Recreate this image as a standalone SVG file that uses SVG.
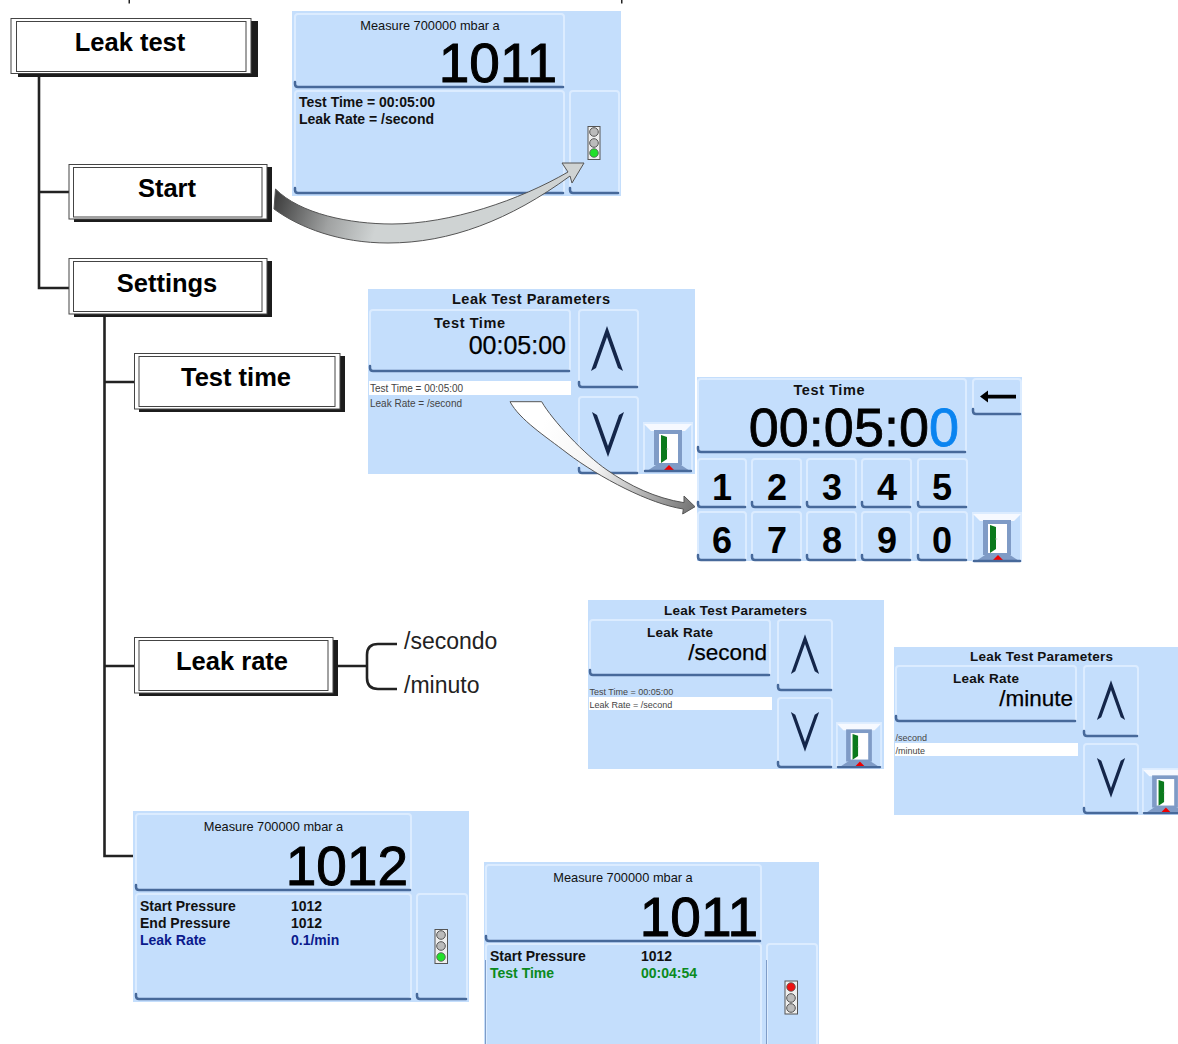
<svg xmlns="http://www.w3.org/2000/svg" width="1178" height="1044" viewBox="0 0 1178 1044">
<style>
text{font-family:"Liberation Sans",Arial,sans-serif;fill:#000}
.bg{fill:#c4defc}
.btn{fill:#c4defc;stroke:#dcecff;stroke-width:2}
.edge{fill:none;stroke:#47699a;stroke-width:2.5;stroke-linecap:round;stroke-linejoin:round}
.side{fill:none;stroke:#7f9cc6;stroke-width:1}
.tree{fill:none;stroke:#222;stroke-width:2.6}
.shadow{fill:#1c1c1c}
.outer{fill:#fff;stroke:#444;stroke-width:1}
.inner{fill:#fff;stroke:#444;stroke-width:1}
.lbl{font-size:25.5px;font-weight:700;text-anchor:middle}
.opt{font-size:23px;fill:#222}
.meas{font-size:12.8px;text-anchor:middle;fill:#111}
.big{font-size:55px;text-anchor:end;stroke:#000;stroke-width:1}
.info{font-size:14px;font-weight:700;fill:#111}
.title{font-size:14.5px;font-weight:700;text-anchor:middle;fill:#111}
.val{font-size:25px;text-anchor:end;stroke:#000;stroke-width:.25}
.list{font-size:10px;fill:#444}
.sel{fill:#fff}
.key{font-size:36px;font-weight:700;text-anchor:middle}
.chev{fill:#14264a}
.tl{fill:#eee;stroke:#555;stroke-width:1}
.off{fill:#bbb;stroke:#555;stroke-width:1}
.green{fill:#22e02a;stroke:#555;stroke-width:.8}
.red{fill:#ee1111;stroke:#555;stroke-width:.8}
.arrow{stroke:#555;stroke-width:1}
</style>
<defs>
<linearGradient id="g1" gradientUnits="userSpaceOnUse" x1="275" y1="200" x2="375" y2="232"><stop offset="0" stop-color="#3f3f3f"/><stop offset=".55" stop-color="#a0a2a2"/><stop offset="1" stop-color="#cfd3d3"/></linearGradient>
<linearGradient id="g2" gradientUnits="userSpaceOnUse" x1="540" y1="430" x2="690" y2="510"><stop offset="0" stop-color="#fff"/><stop offset=".4" stop-color="#f4f4f4"/><stop offset="1" stop-color="#777"/></linearGradient>
<symbol id="door" viewBox="0 0 50 50" width="50" height="50" overflow="visible">
<rect x="1" y="1" width="48" height="48" class="btn"/>
<path d="M1,2H49L42,9H8Z" fill="#f6f9ff"/>
<rect x="11" y="8" width="28" height="35" fill="#7f9bc6"/>
<rect x="16" y="12" width="19" height="29" fill="#fff"/>
<path d="M18,13L24,15V37L18,41Z" fill="#0b7a1d"/>
<circle cx="24.500" cy="27" r=".9" fill="#ddd"/>
<path d="M4,49L16,41H35L47,49Z" fill="#7f9bc6"/>
<path d="M21,48L31,48L26,43Z" fill="#ee0000"/>
<path d="M2,49H48" class="edge"/>
</symbol>
<symbol id="up" viewBox="0 0 34 46" width="34" height="46"><path d="M17,0L33,45L28,42L17,11L6,42L1,45Z" class="chev"/></symbol>
<symbol id="down" viewBox="0 0 34 46" width="34" height="46"><path d="M17,46L33,1L28,4L17,35L6,4L1,1Z" class="chev"/></symbol>
</defs>

<rect x="128.500" y="0" width="1.500" height="3.500" fill="#222"/>
<rect x="621" y="0" width="1.500" height="3.500" fill="#222"/>

<g id="tree-lines">
<path class="tree" d="M39,74V288H69M39,192H69"/>
<path class="tree" d="M104.500,317V856H134M104.500,382H134M104.500,666H134"/>
<path class="tree" d="M338,666H367M397,644H378Q367,644 367,655V678Q367,689 378,689H397"/>
</g>

<g id="node-leak-test">
<rect class="shadow" x="18" y="21" width="240" height="56"/>
<rect class="outer" x="11" y="18.500" width="240" height="55"/>
<rect class="inner" x="16.500" y="21.500" width="229.500" height="50"/>
<text class="lbl" x="130" y="51">Leak test</text>
</g>
<g id="node-start">
<rect class="shadow" x="74" y="167" width="198" height="55"/>
<rect class="outer" x="69" y="164.500" width="198" height="54.500"/>
<rect class="inner" x="73.500" y="167.500" width="188.500" height="49.500"/>
<text class="lbl" x="167" y="197">Start</text>
</g>
<g id="node-settings">
<rect class="shadow" x="74" y="261" width="198" height="56"/>
<rect class="outer" x="69" y="258.500" width="198" height="55.500"/>
<rect class="inner" x="73.500" y="261.500" width="188.500" height="50"/>
<text class="lbl" x="167" y="292">Settings</text>
</g>
<g id="node-test-time">
<rect class="shadow" x="139" y="356" width="206" height="56"/>
<rect class="outer" x="134.500" y="353.500" width="205.500" height="55.500"/>
<rect class="inner" x="139" y="356.500" width="196" height="50"/>
<text class="lbl" x="236" y="386">Test time</text>
</g>
<g id="node-leak-rate">
<rect class="shadow" x="139" y="640" width="199" height="56"/>
<rect class="outer" x="134.500" y="637.500" width="198.500" height="55.500"/>
<rect class="inner" x="139" y="640.500" width="189" height="50"/>
<text class="lbl" x="232" y="670">Leak rate</text>
</g>
<g id="options">
<text class="opt" x="404" y="649">/secondo</text>
<text class="opt" x="404" y="693">/minuto</text>
</g>

<g id="panel-measure-start">
<rect class="bg" x="292" y="11" width="329" height="185"/>
<rect class="btn" x="295" y="14" width="269" height="73" rx="3"/><path class="edge" d="M295,82V84Q295,87 298,87H563"/>
<rect class="btn" x="295" y="91" width="269" height="102" rx="3"/><path class="edge" d="M295,188V190Q295,193 298,193H563"/>
<rect class="btn" x="570" y="91" width="49" height="102" rx="3"/><path class="edge" d="M570,188V190Q570,193 573,193H618"/>
<text class="meas" x="430" y="30">Measure 700000 mbar a</text>
<text class="big" x="557" y="82">1011</text>
<text class="info" x="299" y="107">Test Time = 00:05:00</text>
<text class="info" x="299" y="124">Leak Rate = /second</text>
<rect class="tl" x="588" y="126.500" width="12" height="33"/>
<circle class="off" cx="594" cy="132" r="4.300"/><circle class="off" cx="594" cy="143" r="4.300"/><circle class="green" cx="594" cy="153" r="4.300"/>
</g>

<g id="panel-params-time">
<rect class="bg" x="368" y="289" width="327" height="185"/>
<rect class="btn" x="370" y="310" width="200" height="61" rx="3"/><path class="edge" d="M370,366V368Q370,371 373,371H569"/>
<rect class="btn" x="579" y="310" width="59" height="77" rx="3"/><path class="edge" d="M579,382V384Q579,387 582,387H637"/>
<rect class="btn" x="579" y="397" width="59" height="76" rx="3"/><path class="edge" d="M579,468V470Q579,473 582,473H637"/>
<use href="#door" x="643" y="422"/>
<use href="#up" x="590" y="326"/>
<use href="#down" x="591" y="411"/>
<rect class="sel" x="369" y="381" width="202" height="14"/>
<text class="title" x="531" y="304" textLength="158">Leak Test Parameters</text>
<text class="title" x="469.500" y="328" textLength="71">Test Time</text>
<text class="val" x="566" y="354">00:05:00</text>
<text class="list" x="370" y="392">Test Time = 00:05:00</text>
<text class="list" x="370" y="407">Leak Rate = /second</text>
</g>

<g id="panel-keypad">
<rect class="bg" x="697" y="377" width="325" height="184"/>
<rect class="btn" x="698" y="379" width="268" height="73" rx="3"/><path class="edge" d="M698,447V449Q698,452 701,452H965"/>
<rect class="btn" x="973" y="379" width="48" height="35" rx="3"/><path class="edge" d="M973,409V411Q973,414 976,414H1020"/>
<path d="M980,396.500L988,390.500V394.800H1016V398.500H988V402.500Z" fill="#000"/>
<g>
<rect class="btn" x="698" y="459" width="48" height="48" rx="3"/><path class="edge" d="M698,502V504Q698,507 701,507H745"/>
<rect class="btn" x="752" y="459" width="49" height="48" rx="3"/><path class="edge" d="M752,502V504Q752,507 755,507H800"/>
<rect class="btn" x="807" y="459" width="49" height="48" rx="3"/><path class="edge" d="M807,502V504Q807,507 810,507H855"/>
<rect class="btn" x="862" y="459" width="49" height="48" rx="3"/><path class="edge" d="M862,502V504Q862,507 865,507H910"/>
<rect class="btn" x="918" y="459" width="49" height="48" rx="3"/><path class="edge" d="M918,502V504Q918,507 921,507H966"/>
<rect class="btn" x="698" y="512" width="48" height="48" rx="3"/><path class="edge" d="M698,555V557Q698,560 701,560H745"/>
<rect class="btn" x="752" y="512" width="49" height="48" rx="3"/><path class="edge" d="M752,555V557Q752,560 755,560H800"/>
<rect class="btn" x="807" y="512" width="49" height="48" rx="3"/><path class="edge" d="M807,555V557Q807,560 810,560H855"/>
<rect class="btn" x="862" y="512" width="49" height="48" rx="3"/><path class="edge" d="M862,555V557Q862,560 865,560H910"/>
<rect class="btn" x="918" y="512" width="49" height="48" rx="3"/><path class="edge" d="M918,555V557Q918,560 921,560H966"/>
</g>
<use href="#door" x="972" y="512"/>
<text class="title" x="829" y="395" textLength="71">Test Time</text>
<text x="959" y="446" font-size="54" text-anchor="end" stroke="#000" stroke-width=".8">00:05:0<tspan fill="#0a84f0" stroke="#0a84f0">0</tspan></text>
<text class="key" x="722" y="500">1</text><text class="key" x="777" y="500">2</text><text class="key" x="832" y="500">3</text><text class="key" x="887" y="500">4</text><text class="key" x="942" y="500">5</text>
<text class="key" x="722" y="553">6</text><text class="key" x="777" y="553">7</text><text class="key" x="832" y="553">8</text><text class="key" x="887" y="553">9</text><text class="key" x="942" y="553">0</text>
</g>

<g id="panel-params-rate">
<rect class="bg" x="588" y="600" width="296" height="169"/>
<rect class="btn" x="590" y="620" width="180" height="55" rx="3"/><path class="edge" d="M590,670V672Q590,675 593,675H769"/>
<rect class="btn" x="778" y="620" width="54" height="70" rx="3"/><path class="edge" d="M778,685V687Q778,690 781,690H831"/>
<rect class="btn" x="778" y="698" width="54" height="69" rx="3"/><path class="edge" d="M778,762V764Q778,767 781,767H831"/>
<use href="#door" x="836" y="722" width="46" height="46"/>
<use href="#up" x="790" y="634" width="30" height="41"/>
<use href="#down" x="790" y="711" width="30" height="41"/>
<rect class="sel" x="589" y="697" width="183" height="13"/>
<text class="title" x="735.500" y="615" style="font-size:13.500px" textLength="143">Leak Test Parameters</text>
<text class="title" x="680" y="637" style="font-size:13.500px" textLength="66">Leak Rate</text>
<text class="val" x="767" y="660" style="font-size:22.500px">/second</text>
<text class="list" x="589.500" y="695" style="font-size:9px">Test Time = 00:05:00</text>
<text class="list" x="589.500" y="708" style="font-size:9px">Leak Rate = /second</text>
</g>

<g id="panel-params-rate-minute">
<rect class="bg" x="894" y="647" width="284" height="168"/>
<rect class="btn" x="896" y="666" width="180" height="55" rx="3"/><path class="edge" d="M896,716V718Q896,721 899,721H1075"/>
<rect class="btn" x="1084" y="666" width="54" height="70" rx="3"/><path class="edge" d="M1084,731V733Q1084,736 1087,736H1137"/>
<rect class="btn" x="1084" y="744" width="54" height="69" rx="3"/><path class="edge" d="M1084,808V810Q1084,813 1087,813H1137"/>
<use href="#door" x="1142" y="768" width="46" height="46"/>
<use href="#up" x="1096" y="680" width="30" height="41"/>
<use href="#down" x="1096" y="757" width="30" height="41"/>
<rect class="sel" x="895" y="743" width="183" height="13"/>
<text class="title" x="1041.500" y="661" style="font-size:13.500px" textLength="143">Leak Test Parameters</text>
<text class="title" x="986" y="683" style="font-size:13.500px" textLength="66">Leak Rate</text>
<text class="val" x="1073" y="706" style="font-size:22.500px">/minute</text>
<text class="list" x="895.500" y="741" style="font-size:9px">/second</text>
<text class="list" x="895.500" y="754" style="font-size:9px">/minute</text>
</g>

<g id="panel-result">
<rect class="bg" x="133" y="811" width="336" height="191"/>
<rect class="btn" x="136" y="814" width="275" height="76" rx="3"/><path class="edge" d="M136,885V887Q136,890 139,890H410"/>
<rect class="btn" x="136" y="894" width="275" height="105" rx="3"/><path class="edge" d="M136,994V996Q136,999 139,999H410"/>
<rect class="btn" x="417" y="894" width="50" height="105" rx="3"/><path class="edge" d="M417,994V996Q417,999 420,999H466"/>
<text class="meas" x="273.500" y="831">Measure 700000 mbar a</text>
<text class="big" x="408" y="885">1012</text>
<text class="info" x="140" y="911">Start Pressure</text><text class="info" x="291" y="911">1012</text>
<text class="info" x="140" y="928">End Pressure</text><text class="info" x="291" y="928">1012</text>
<text class="info" x="140" y="945" style="fill:#0a1a8c">Leak Rate</text><text class="info" x="291" y="945" style="fill:#0a1a8c">0.1/min</text>
<rect class="tl" x="435" y="929.500" width="12.500" height="34"/>
<circle class="off" cx="441" cy="935" r="4.300"/><circle class="off" cx="441" cy="946" r="4.300"/><circle class="green" cx="441" cy="957" r="4.300"/>
</g>

<g id="panel-running">
<rect class="bg" x="484" y="862" width="335" height="182"/>
<rect class="btn" x="486" y="865" width="275" height="76" rx="3"/><path class="edge" d="M486,936V938Q486,941 489,941H760"/>
<path class="btn" d="M486,1050V947Q486,944 489,944H758Q761,944 761,947V1050Z"/><path class="side" d="M485.500,960V1044"/>
<path class="btn" d="M767,1050V947Q767,944 770,944H814Q817,944 817,947V1050Z"/><path class="side" d="M766.500,960V1044"/>
<text class="meas" x="623" y="882">Measure 700000 mbar a</text>
<text class="big" x="758" y="936">1011</text>
<text class="info" x="490" y="961">Start Pressure</text><text class="info" x="641" y="961">1012</text>
<text class="info" x="490" y="978" style="fill:#0a8a20">Test Time</text><text class="info" x="641" y="978" style="fill:#0a8a20">00:04:54</text>
<rect class="tl" x="785" y="981" width="12.500" height="33"/>
<circle class="red" cx="791" cy="987" r="4.300"/><circle class="off" cx="791" cy="998" r="4.300"/><circle class="off" cx="791" cy="1008" r="4.300"/>
</g>

<g id="connectors">
<path class="arrow" fill="url(#g1)" d="M275.500,189C300,214 350,224 392,224C450,224 520,200 568,172L562,163H584L572,183L570,176C510,220 450,243 388,243C340,243 300,228 274,209Z"/>
<path class="arrow" fill="url(#g2)" d="M510,401.700H541.700C552,420 585,455 607,470C630,486 655,498 684,502.700L684,496L695,506.700L682.700,514L683.300,509C650,504 600,478 567,453C545,436 520,420 510,401.700Z"/>
</g>
</svg>
